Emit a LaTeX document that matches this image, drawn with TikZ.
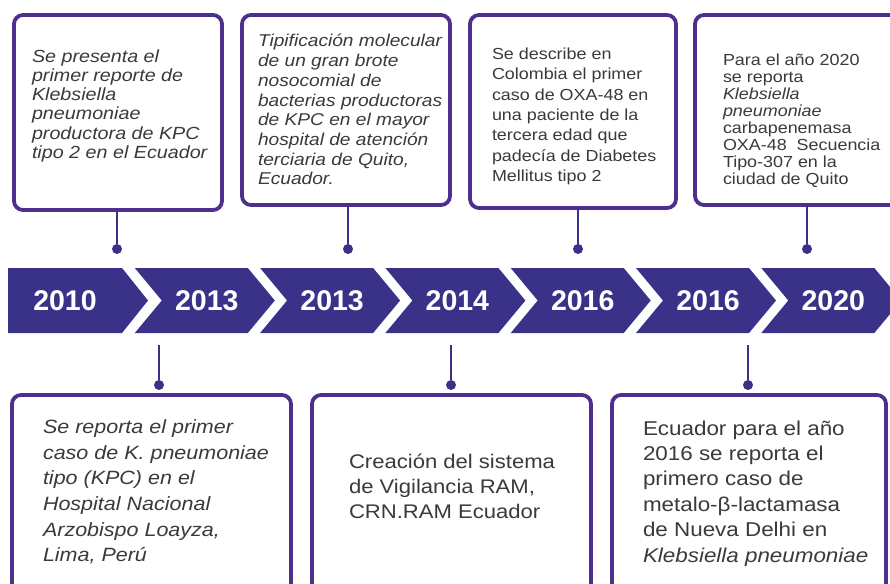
\documentclass[tikz,border=0pt]{standalone}
\usepackage{fontspec}
\setmainfont{Liberation Sans}
\newfontfamily\bodyfont{Liberation Sans}[FakeStretch=1.12]
\definecolor{chev}{HTML}{3A3189}
\definecolor{boxc}{HTML}{4E2E8F}
\definecolor{txt}{HTML}{3A3A3A}
\begin{document}
\begin{tikzpicture}[x=1pt,y=-1pt,
  evbox/.style={draw=boxc, line width=3.8pt, rounded corners=9pt, fill=white, inner sep=0pt, outer sep=0pt},
  evtext/.style={anchor=north west, inner sep=0pt, outer sep=0pt, align=left, text=txt},
  yearlbl/.style={text=white, inner sep=0pt, font=\fontsize{28.5}{30}\selectfont\bfseries},
  dotnode/.style={circle, fill=chev, inner sep=0pt, minimum size=10pt},
  link/.style={draw=chev, line width=2pt}
]
\useasboundingbox (0,0) rectangle (890,583);
\fill[white] (0,0) rectangle (890,583);
\clip (0,0) rectangle (890,583);

% top boxes
\node[evbox, minimum width=208pt, minimum height=195pt] (b1) at (118,112.5) {};
\node[evbox, minimum width=208pt, minimum height=190pt] (b2) at (346,110) {};
\node[evbox, minimum width=206pt, minimum height=193pt] (b3) at (573,111.5) {};
\node[evbox, minimum width=225pt, minimum height=190pt] (b4) at (807.5,110) {};

% bottom boxes
\node[evbox, minimum width=279pt, minimum height=225pt] (b5) at (151.5,507.5) {};
\node[evbox, minimum width=279pt, minimum height=225pt] (b6) at (451.5,507.5) {};
\node[evbox, minimum width=274pt, minimum height=225pt] (b7) at (749,507.5) {};

% chevrons
\fill[chev] (8,268) -- (122,268) -- (148,300.5) -- (122,333) -- (8,333) -- cycle;
\node[yearlbl] (y0) at (65,301) {2010};
\foreach \k/\yr in {1/2013,2/2013,3/2014,4/2016,5/2016,6/2020} {
  \pgfmathsetmacro\xl{9.5+125.3*\k}
  \fill[chev] (\xl,268) -- ++(113,0) -- ++(27,32.5) -- ++(-27,32.5) -- ++(-113,0) -- ++(27,-32.5) -- cycle;
  \node[yearlbl] (y\k) at (\xl+72,301) {\yr};
}

% top dots and connectors
\node[dotnode] (d1) at (117,249) {};
\node[dotnode] (d2) at (348,249) {};
\node[dotnode] (d3) at (578,249) {};
\node[dotnode] (d4) at (807,249) {};
\draw[link] (d1 |- b1.south) -- (d1);
\draw[link] (d2 |- b2.south) -- (d2);
\draw[link] (d3 |- b3.south) -- (d3);
\draw[link] (d4 |- b4.south) -- (d4);

% bottom dots and connectors
\coordinate (s1) at (159,345);
\coordinate (s2) at (451,345);
\coordinate (s3) at (748,345);
\node[dotnode] (e1) at (159,385) {};
\node[dotnode] (e2) at (451,385) {};
\node[dotnode] (e3) at (748,385) {};
\draw[link] (s1) -- (e1);
\draw[link] (s2) -- (e2);
\draw[link] (s3) -- (e3);

% texts
\node[evtext, font=\bodyfont\fontsize{17.6}{19.2}\selectfont\itshape] (t1) at (32,49.5) {Se presenta el\\primer reporte de\\Klebsiella\\pneumoniae\\productora de KPC\\tipo 2 en el Ecuador};
\node[evtext, font=\bodyfont\fontsize{17.1}{19.7}\selectfont\itshape] (t2) at (258,34.4) {Tipificación molecular\\de un gran brote\\nosocomial de\\bacterias productoras\\de KPC en el mayor\\hospital de atención\\terciaria de Quito,\\Ecuador.};
\node[evtext, font=\bodyfont\fontsize{16}{20.4}\selectfont] (t3) at (492,47.8) {Se describe en\\Colombia el primer\\caso de OXA-48 en\\una paciente de la\\tercera edad que\\padecía de Diabetes\\Mellitus tipo 2};
\node[evtext, font=\bodyfont\fontsize{16}{17.1}\selectfont] (t4) at (723,53.5) {Para el año 2020\\se reporta\\\textit{Klebsiella}\\\textit{pneumoniae}\\carbapenemasa\\OXA-48\ \ Secuencia\\Tipo-307 en la\\ciudad de Quito};
\node[evtext, font=\bodyfont\fontsize{19.2}{25.7}\selectfont\itshape] (t5) at (43,419.5) {Se reporta el primer\\caso de K. pneumoniae\\tipo (KPC) en el\\Hospital Nacional\\Arzobispo Loayza,\\Lima, Perú};
\node[evtext, font=\bodyfont\fontsize{19.7}{25}\selectfont] (t6) at (349,453.8) {Creación del sistema\\de Vigilancia RAM,\\CRN.RAM Ecuador};
\node[evtext, font=\bodyfont\fontsize{20}{25.4}\selectfont] (t7) at (643,420.7) {Ecuador para el año\\2016 se reporta el\\primero caso de\\metalo-β-lactamasa\\de Nueva Delhi en\\\textit{Klebsiella pneumoniae}};
\end{tikzpicture}
\end{document}
